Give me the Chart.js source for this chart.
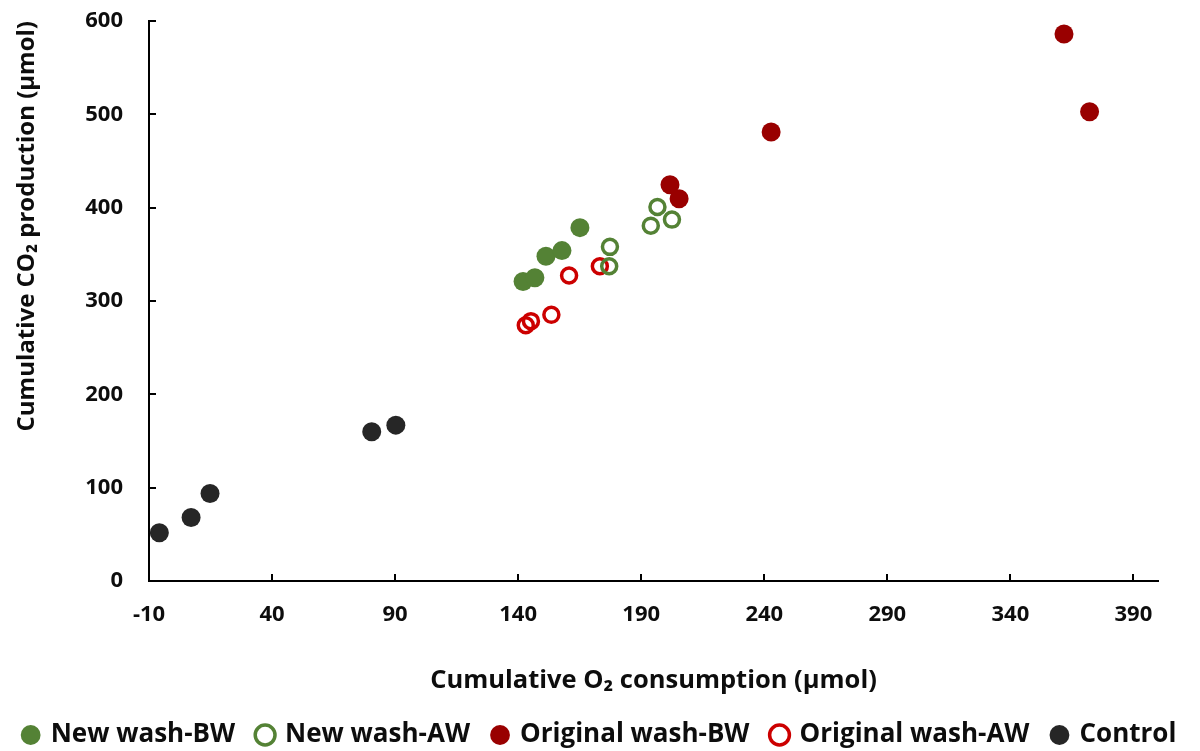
<!DOCTYPE html>
<html>
<head>
<meta charset="utf-8">
<script src="https://cdn.jsdelivr.net/npm/chart.js@4/dist/chart.umd.min.js"></script>
<style>
  html, body { margin: 0; padding: 0; background: #fff; overflow: hidden; }
  .chart__wrapper { width: 1200px; height: 751px; }
</style>
</head>
<body>
<div class="chart__wrapper"><canvas id="gas-chart"></canvas></div>
<script>
  // values (O2 consumption, CO2 production, µmol)
  const newBwX = [142.0, 146.8, 151.3, 157.8, 165.1];
  const newBwY = [320.9, 325.0, 348.0, 354.0, 378.6];
  const newAwX = [177.3, 177.0, 196.6, 193.9, 202.5];
  const newAwY = [358.0, 337.2, 400.7, 380.7, 387.2];
  const origBwX = [361.8, 372.2, 242.8, 201.7, 205.4];
  const origBwY = [586.0, 502.7, 481.0, 424.5, 409.6];
  const origAwX = [143.1, 145.2, 153.5, 160.7, 173.2];
  const origAwY = [274.0, 278.4, 285.2, 327.3, 337.2];
  const controlX = [-5.8, 7.1, 14.8, 80.5, 90.3];
  const controlY = [51.7, 68.1, 93.8, 160.0, 167.0];

  const xTicks = [-10, 40, 90, 140, 190, 240, 290, 340, 390];
  const yTicks = [0, 100, 200, 300, 400, 500, 600];

  const seriesNames = ["New wash-BW", "New wash-AW", "Original wash-BW", "Original wash-AW", "Control"];

  const colors = {
    green: "#548235",
    darkRed: "#990000",
    red: "#cc0000",
    control: "#262626",
    text: "#0d0d0d",
  };

  const toPoints = (xs, ys) => xs.map((x, i) => ({ x: x, y: ys[i] }));

  const solid = (label, xs, ys, color) => ({
    label,
    data: toPoints(xs, ys),
    backgroundColor: color,
    borderColor: color,
    pointRadius: 9.5,
    pointHoverRadius: 9.5,
    borderWidth: 0,
  });

  const hollow = (label, xs, ys, color) => ({
    label,
    data: toPoints(xs, ys),
    backgroundColor: "rgba(255,255,255,0)",
    borderColor: color,
    pointRadius: 7.5,
    pointHoverRadius: 7.5,
    borderWidth: 3.5,
  });

  // axis ticks point into the plot area, so draw them by hand
  const innerTicks = {
    id: "innerTicks",
    afterDraw(chart) {
      const ctx = chart.ctx;
      const area = chart.chartArea;
      ctx.save();
      ctx.strokeStyle = "#000";
      ctx.lineWidth = 2;
      const xs = chart.scales.x;
      xs.ticks.forEach((t, i) => {
        const px = Math.round(xs.getPixelForTick(i));
        ctx.beginPath();
        ctx.moveTo(px, area.bottom);
        ctx.lineTo(px, area.bottom - 7);
        ctx.stroke();
      });
      const ys = chart.scales.y;
      ys.ticks.forEach((t, i) => {
        const py = Math.round(ys.getPixelForTick(i));
        ctx.beginPath();
        ctx.moveTo(area.left, py);
        ctx.lineTo(area.left + 7, py);
        ctx.stroke();
      });
      ctx.restore();
    },
  };

  const font = "'Open Sans', 'Noto Sans', sans-serif";

  new Chart(document.getElementById("gas-chart").getContext("2d"), {
    type: "scatter",
    data: {
      datasets: [
        solid(seriesNames[0], newBwX, newBwY, colors.green),
        hollow(seriesNames[1], newAwX, newAwY, colors.green),
        solid(seriesNames[2], origBwX, origBwY, colors.darkRed),
        hollow(seriesNames[3], origAwX, origAwY, colors.red),
        solid(seriesNames[4], controlX, controlY, colors.control),
      ],
    },
    options: {
      responsive: true,
      maintainAspectRatio: false,
      animation: false,
      layout: { padding: { top: 21, right: 0, left: 0, bottom: -7 } },
      scales: {
        x: {
          type: "linear",
          min: -10,
          max: 400,
          afterBuildTicks: (s) => { s.ticks = xTicks.map((v) => ({ value: v })); },
          afterFit: (s) => { s.height = 118; s.paddingRight = 42; s.paddingLeft = 0; },
          grid: { display: false, drawTicks: false },
          border: { display: true, color: "#000", width: 2 },
          ticks: {
            color: colors.text,
            font: { family: font, size: 22, weight: "bold" },
            padding: 21,
            maxRotation: 0,
          },
          title: {
            display: true,
            text: "Cumulative O\u2082 consumption (\u03bcmol)",
            color: colors.text,
            font: { family: font, size: 25.5, weight: "bold" },
            padding: { top: 0, bottom: 3 },
          },
        },
        y: {
          type: "linear",
          min: 0,
          max: 600,
          afterBuildTicks: (s) => { s.ticks = yTicks.map((v) => ({ value: v })); },
          afterFit: (s) => { s.width = 149; s.paddingTop = 0; s.paddingBottom = 0; },
          grid: { display: false, drawTicks: false },
          border: { display: true, color: "#000", width: 2 },
          ticks: {
            color: colors.text,
            font: { family: font, size: 22, weight: "bold" },
            padding: 26,
          },
          title: {
            display: true,
            text: "Cumulative CO\u2082 production (\u03bcmol)",
            color: colors.text,
            align: "end",
            font: { family: font, size: 24, weight: "bold" },
            padding: { top: 13, bottom: 0 },
          },
        },
      },
      plugins: {
        legend: {
          position: "bottom",
          labels: {
            usePointStyle: true,
            pointStyle: "circle",
            boxWidth: 14,
            boxHeight: 14,
            padding: 23,
            color: colors.text,
            font: { family: font, size: 26, weight: "bold" },
          },
        },
        tooltip: { enabled: false },
      },
    },
    plugins: [innerTicks],
  });
</script>
</body>
</html>
